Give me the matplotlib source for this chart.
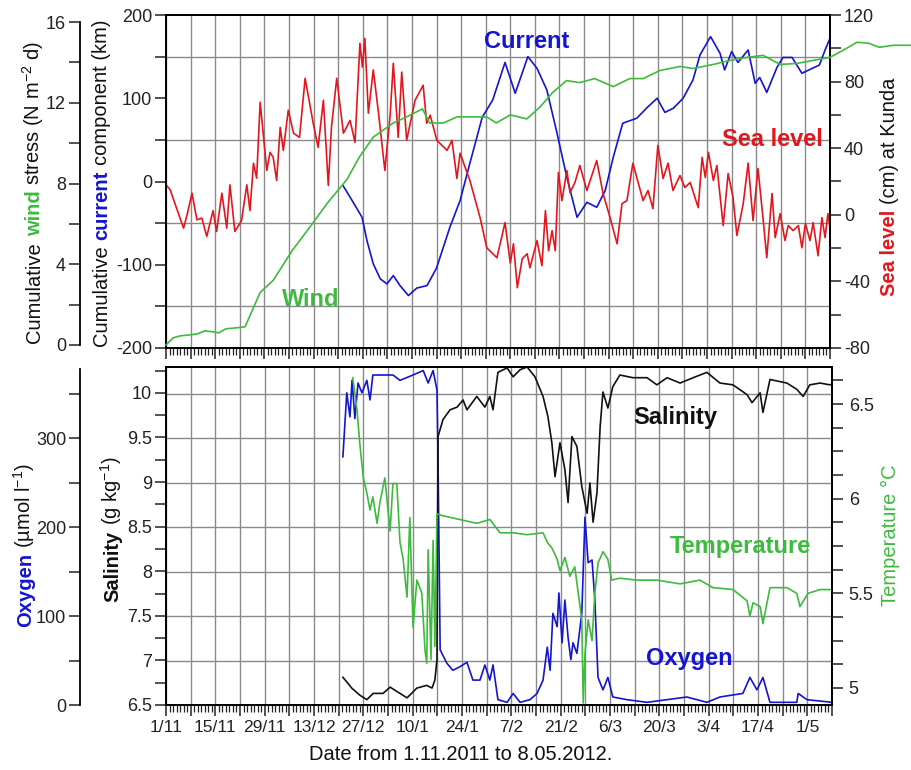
import numpy as np
import matplotlib
matplotlib.use('Agg')
import matplotlib.pyplot as plt
from matplotlib.ticker import MultipleLocator, FixedLocator, FuncFormatter, NullFormatter

# ---------------- data (x = days since 1 Nov 2011) ----------------
wind_day = [0, 2, 4, 6.8, 9, 11, 13.4, 15, 17, 20, 22.5, 26.8, 30.5, 36, 41, 45.8, 51.5, 55, 59,
            64.7, 68.5, 73, 75, 79, 82.8, 91.3, 94, 98, 102.7, 106.5, 110, 114, 117.8, 122, 127.3,
            132, 135.8, 140.6, 146.3, 150, 155.8, 160.5, 165.4, 170, 174.8, 179.6, 184.2, 189,
            192.7, 196.7, 200, 203, 207, 211.8]
wind_val = [0, 0.35, 0.45, 0.5, 0.55, 0.7, 0.65, 0.6, 0.8, 0.85, 0.9, 2.6, 3.2, 4.7, 5.85, 7.0, 8.2,
            9.3, 10.3, 11.0, 11.3, 11.7, 11.0, 11.0, 11.3, 11.3, 11.0, 11.4, 11.2, 11.8, 12.5, 13.1,
            13.0, 13.2, 12.8, 13.2, 13.2, 13.6, 13.8, 13.7, 13.9, 14.1, 14.25, 14.35, 13.9, 13.95,
            14.1, 14.25, 14.6, 15.0, 14.95, 14.75, 14.85, 14.85]

cur_day = [50.4, 53, 54.4, 55.8, 57.2, 59, 61, 62.9, 64.7, 66.6, 69, 71.4, 74.3, 77, 80.8, 83.7,
           86.5, 90, 93, 96.5, 99.4, 103, 105.6, 108.4, 111.3, 114.1, 117, 119.8, 122.6, 125,
           127.3, 130, 134, 137, 139.8, 142, 144.4, 147.2, 150, 152, 155, 157.7, 159, 161, 162.8,
           165.7, 167.7, 169, 171, 173.9, 175.6, 178.2, 181, 184, 186, 187.6, 189]
cur_val = [-5, -23, -33, -43, -71, -99, -117, -123, -113, -125, -137, -128, -125, -104, -55, -23,
           22, 77, 98, 143, 106, 150, 136, 110, 58, 5, -43, -25, -31, -11, 29, 70, 76, 89, 100,
           83, 88, 100, 122, 152, 174, 154, 134, 156, 143, 158, 118, 125, 107, 137, 149, 149, 130,
           136, 140, 158, 172]

sl_day = [0, 1.2, 3, 5, 6, 7.4, 8.8, 10.2, 11.6, 13.4, 14.4, 15.9, 17.3, 18.2, 19.6, 21.5, 23, 23.9,
          24.9, 25.8, 26.8, 28.7, 29.6, 30.5, 31.5, 32.5, 33.4, 34.8, 36.3, 38, 39.6, 41.9, 43.3,
          44.8, 46.2, 47.1, 48.6, 50.5, 52.4, 53.8, 55.2, 55.9, 56.6, 57.6, 59, 60.4, 62.3, 63.8,
          64.7, 66.1, 67.1, 68.5, 70.9, 73.2, 74.2, 75.2, 77.1, 80, 81.4, 82.8, 83.7, 86.5, 89.4,
          91.3, 94.2, 96.5, 98, 98.9, 100, 101.4, 102.8, 103.6, 105.6, 107, 108, 108.9, 109.9,
          110.8, 111.7, 112.7, 114.1, 115, 116.4, 117.8, 119.8, 121.2, 122.6, 124.4, 126.4, 128.4,
          129.8, 131.2, 132.9, 134.4, 135.8, 137.2, 138.6, 140, 141.5, 142.9, 144.3, 146.3, 147.7,
          149.2, 151.5, 152.6, 153.5, 154.4, 155.8, 156.8, 158.6, 160, 161.4, 162.5, 164.3, 165.7,
          167.1, 168.5, 170, 171, 172.5, 173.4, 174.8, 176.2, 177.1, 178.5, 180, 181, 182, 183.3,
          184.2, 185.6, 186.7, 187.6, 188.4, 189]
sl_val = [18, 15, 4, -8, 0, 13, -3, -2, -13, 2.5, -10, 13, -8, 18, -10, -3.5, 18, 2.5, 31, 22, 67.6,
          26.6, 37.5, 34.6, 20.6, 52.5, 38.7, 62.8, 49, 46.5, 82, 55, 40.5, 68.8, 17.6, 52.5, 82,
          49, 56.7, 43.5, 103, 88.7, 106, 61, 87, 62.8, 26.6, 59.8, 91, 46.5, 85.7, 44.7, 68.8,
          77.8, 55, 59.8, 44.7, 38.7, 44.7, 21.8, 37, 20.6, -1.7, -19.8, -25.8, -4.7, -29, -17.4,
          -43.8, -26.4, -23.4, -31.8, -15.5, -30.6, 2.5, -21.6, -9.5, -21.6, 25.4, 8.5, 26.6, 13.4,
          19.4, 29.6, 14.6, 23.6, 32.6, 12.8, -1.7, -17.4, 6.7, 8.5, 31, 19.4, 8.5, 14.6, 3.7,
          41.7, 21.8, 31, 14.6, 23.6, 16.4, 19.4, 4.3, 34.5, 22.4, 37.5, 20.6, 29.6, -6.5, 24.8,
          10.4, -12.5, 6.7, 31, -3.5, 27.8, -3.5, -25.8, 12.8, -13.7, 0.7, -15.5, -6.5, -9.5,
          -6.5, -19.8, -5.3, -15.5, -4.7, -24.6, -1.7, -13.7, 0.7, -7.7]

sal_day = [50.2, 51.3, 52.7, 55, 57, 58.8, 61.6, 63.6, 66.4, 68.4, 71.2, 74, 75.5, 76.3, 76.9, 77.2,
           78.6, 80.6, 82.6, 84.3, 85.4, 88.2, 90.5, 91.9, 92.8, 94.2, 96.8, 98.5, 100.5, 102.5,
           104.7, 107, 108.4, 109.5, 110.4, 111.8, 113.2, 114.1, 115.2, 116.6, 118, 119.5, 120.3,
           121.2, 122.3, 123.2, 124, 125.4, 126.8, 128.8, 132.5, 136.5, 139.3, 142.2, 145.9,
           149.6, 153.5, 157.2, 160.9, 164.9, 166.3, 168.6, 169.4, 171.4, 176.2, 179, 180.8,
           182.7, 185.6, 188.4, 189]
sal_val = [6.81, 6.76, 6.69, 6.61, 6.56, 6.63, 6.63, 6.70, 6.63, 6.58, 6.69, 6.72, 6.69, 6.78, 7.01,
           9.51, 9.70, 9.81, 9.84, 9.92, 9.81, 9.96, 9.84, 9.96, 9.81, 10.23, 10.28, 10.18, 10.26,
           10.29, 10.18, 9.96, 9.73, 9.44, 9.06, 9.44, 9.14, 8.77, 9.51, 9.40, 8.95, 8.65, 8.99,
           8.55, 8.88, 9.62, 10.01, 9.83, 10.07, 10.20, 10.17, 10.17, 10.09, 10.17, 10.11, 10.17,
           10.23, 10.11, 10.09, 9.98, 9.89, 10.00, 9.78, 10.15, 10.11, 10.04, 9.96, 10.09, 10.11,
           10.09, 10.10]

ox_day = [50.2, 51.3, 52.2, 52.8, 53.6, 54.5, 55.6, 57, 57.9, 58.7, 64.4, 66.4, 70.1, 73, 74.4, 75.8,
          76.9, 77.2, 77.8, 79.7, 81.4, 83.4, 85.4, 87.1, 89.1, 90.5, 91.9, 92.8, 94.2, 96.8, 98.5,
          100.5, 103.3, 105.3, 107, 108.2, 109, 109.8, 111, 111.5, 112.4, 113.2, 114.1, 114.9,
          115.5, 116.6, 118, 118.9, 119.8, 120.9, 121.7, 122.6, 124, 125.4, 126.8, 130.8, 136.5,
          142.2, 147.8, 153.5, 157.2, 163.7, 165.7, 167.7, 169.4, 171.4, 179, 179.4, 181.9, 189]
ox_val = [279, 351, 324, 365, 322, 362, 351, 365, 343, 371, 371, 365, 371, 376, 362, 376, 354, 275,
          62, 47, 39, 43, 48, 28, 28, 45, 28, 45, 6, 3, 13, 3, 6, 13, 28, 65, 39, 103, 88, 126, 70,
          118, 76, 51, 70, 58, 103, 211, 160, 163, 118, 31, 17, 31, 9, 6, 3, 6, 9, 3, 9, 13, 31, 17,
          31, 3, 3, 13, 6, 3]

tmp_day = [53, 54.2, 55, 56, 57, 57.9, 58.7, 59.9, 60.7, 62.1, 63.6, 64.4, 65.5, 66.4, 67.3, 68.4,
           69.2, 70.1, 71.2, 72.6, 73.5, 74, 74.4, 75.2, 75.8, 76.3, 76.9, 78.6, 83.4, 88.2, 91.9,
           94.8, 98.5, 102.5, 107, 108.2, 109.5, 111, 111.8, 113.2, 114.6, 116, 117, 118, 118.4,
           118.9, 119.8, 120.9, 121.7, 122.6, 124, 125.4, 126.5, 128.8, 133.6, 139.3, 145.9,
           151.5, 155.2, 160.9, 164.9, 165.7, 166.6, 168.6, 169.4, 171.4, 176.2, 179, 179.9,
           182.2, 185.6, 189]
tmp_val = [6.64, 6.47, 6.29, 6.11, 6.03, 5.94, 6.01, 5.87, 5.98, 6.11, 5.83, 6.08, 6.08, 5.77, 5.68,
           5.48, 5.90, 5.32, 5.57, 5.50, 5.20, 5.13, 5.73, 5.15, 5.78, 5.22, 5.92, 5.91, 5.89, 5.87,
           5.89, 5.82, 5.82, 5.81, 5.82, 5.77, 5.74, 5.68, 5.62, 5.69, 5.59, 5.64, 5.50, 5.36, 4.92,
           5.18, 5.36, 5.25, 5.50, 5.66, 5.72, 5.68, 5.57, 5.58, 5.57, 5.57, 5.55, 5.57, 5.53, 5.52,
           5.46, 5.38, 5.45, 5.43, 5.34, 5.53, 5.53, 5.50, 5.43, 5.50, 5.52, 5.52]

x_tick_days = list(range(0, 190, 7))
x_label_days = list(range(0, 183, 14))
x_labels = ['1/11', '15/11', '29/11', '13/12', '27/12', '10/1', '24/1', '7/2', '21/2', '6/3',
            '20/3', '3/4', '17/4', '1/5']

# ---------------- style ----------------
plt.rcParams['font.family'] = ['Liberation Sans', 'DejaVu Sans']
plt.rcParams['mathtext.default'] = 'regular'
plt.rcParams['axes.linewidth'] = 1.3

RED, BLUE, GREEN, K = '#e4161d', '#1414d2', '#3cbb3c', '#111111'
GRID = '#8a8a8a'
TICKC = '#222222'
XMAX = 189
W, H = 911.0, 770.0
OUT = 86 * 72 / 100.0  # 86 px outward offset in points

fig = plt.figure(figsize=(9.11, 7.70), dpi=100)


def rect(l, t, r, b):
    return [l / W, 1 - b / H, (r - l) / W, (b - t) / H]


def fx(px):
    return px / W


def fy(py):
    return 1 - py / H


def style_x(ax, labels):
    ax.set_xlim(0, XMAX)
    ax.xaxis.set_major_locator(FixedLocator(x_tick_days))
    ax.xaxis.set_minor_locator(MultipleLocator(1))
    lab = dict(zip(x_label_days, x_labels))
    if labels:
        ax.xaxis.set_major_formatter(FuncFormatter(lambda v, p: lab.get(int(round(v)), '')))
    else:
        ax.xaxis.set_major_formatter(NullFormatter())
    ax.tick_params(axis='x', which='major', direction='out', length=8, width=1.1,
                   labelsize=12.5, pad=3, colors=TICKC)
    ax.tick_params(axis='x', which='minor', direction='out', length=5, width=0.9, colors=TICKC)
    ax.grid(True, axis='x', which='major', color=GRID, lw=1.0)


def style_y(ax, major, minor, side):
    ax.yaxis.set_major_locator(MultipleLocator(major))
    ax.yaxis.set_minor_locator(MultipleLocator(minor))
    ax.yaxis.set_major_formatter(FuncFormatter(lambda v, p: '%g' % round(v, 3)))
    ax.tick_params(axis='y', which='both', direction='out', length=8, width=1.1,
                   labelsize=13, pad=2, colors=TICKC)
    if side == 'left':
        ax.yaxis.tick_left()
        ax.yaxis.set_label_position('left')
    else:
        ax.yaxis.tick_right()
        ax.yaxis.set_label_position('right')


# ---------------- top panel ----------------
ax_cur = fig.add_axes(rect(166, 15, 830, 348))
ax_sl = ax_cur.twinx()
ax_wind = ax_cur.twinx()

style_x(ax_cur, labels=False)
ax_cur.set_ylim(-200, 200)
style_y(ax_cur, 100, 50, 'left')
ax_cur.grid(True, axis='y', which='minor', color=GRID, lw=1.0)

ax_sl.set_ylim(-80, 120)
style_y(ax_sl, 40, 20, 'right')

ax_wind.set_ylim(-0.15, 16.35)
style_y(ax_wind, 4, 2, 'left')
ax_wind.spines['left'].set_position(('outward', OUT))
ax_wind.spines['left'].set_bounds(0, 16)
for s in ['right', 'top', 'bottom']:
    ax_wind.spines[s].set_visible(False)

ax_cur.plot(cur_day, cur_val, color=BLUE, lw=1.2)
ax_sl.plot(sl_day, sl_val, color=RED, lw=1.2)
ax_wind.plot(wind_day, wind_val, color=GREEN, lw=1.2, clip_on=False)

# ---------------- bottom panel ----------------
ax_oxy = fig.add_axes(rect(166, 367, 832, 705))
ax_sal = ax_oxy.twinx()
ax_tmp = ax_oxy.twinx()

style_x(ax_oxy, labels=True)
ax_oxy.set_ylim(0, 380)
style_y(ax_oxy, 100, 50, 'left')
ax_oxy.spines['left'].set_position(('outward', OUT))
ax_oxy.spines['left'].set_bounds(0, 378)
ax_oxy.grid(True, axis='y', which='both', color=GRID, lw=1.0)

ax_sal.set_ylim(6.5, 10.29)
style_y(ax_sal, 0.5, 0.25, 'left')
ax_sal.spines['left'].set_visible(True)

ax_tmp.set_ylim(4.91, 6.696)
style_y(ax_tmp, 0.5, 0.125, 'right')
ax_tmp.tick_params(axis='y', which='both', pad=4)

ax_oxy.plot(ox_day, ox_val, color=BLUE, lw=1.2)
ax_sal.plot(sal_day, sal_val, color=K, lw=1.2)
ax_tmp.plot(tmp_day, tmp_val, color=GREEN, lw=1.2)

# ---------------- texts ----------------
ann = dict(fontsize=17, fontweight='bold', ha='center', va='center')
fig.text(fx(527), fy(42), 'Current', color=BLUE, **ann)
fig.text(fx(311), fy(300), 'Wind', color=GREEN, **ann)
fig.text(fx(772), fy(139), 'Sea level', color=RED, **ann)
fig.text(fx(675), fy(418), 'Salinity', color=K, **ann)
fig.text(fx(740), fy(547), 'Temperature', color=GREEN, **ann)
fig.text(fx(689), fy(658), 'Oxygen', color=BLUE, **ann)

fig.text(fx(461), fy(755), 'Date from 1.11.2011 to 8.05.2012.', fontsize=14.5,
         color=K, ha='center', va='center')

renderer = fig.canvas.get_renderer()


def vlabel(xc, yc, parts, size=14.5):
    p1 = fig.text(0, 0, 'a a', fontsize=size)
    p2 = fig.text(0, 0, 'aa', fontsize=size)
    sp = p1.get_window_extent(renderer).width - p2.get_window_extent(renderer).width
    p1.remove()
    p2.remove()
    xb = xc + 0.36 * size * 100 / 72.0  # baseline x (glyphs extend to the left)
    objs = []
    for s, c, w in parts:
        t = fig.text(fx(xb), 0, s, rotation=90, rotation_mode='anchor', color=c,
                     fontweight=w, fontsize=size, ha='left', va='baseline')
        objs.append(t)
    lens = [t.get_window_extent(renderer).height for t in objs]
    total = sum(lens) + sp * (len(objs) - 1)
    y = (H - yc) - total / 2
    for t, L in zip(objs, lens):
        t.set_y(y / H)
        y += L + sp


vlabel(33, 192, [('Cumulative', K, 'normal'), ('wind', GREEN, 'bold'),
                 ('stress (N m$^{-2}$ d)', K, 'normal')])
vlabel(100, 183, [('Cumulative', K, 'normal'), ('current', BLUE, 'bold'),
                  ('component (km)', K, 'normal')])
vlabel(888, 187, [('Sea level', RED, 'bold'), ('(cm) at Kunda', K, 'normal')])
vlabel(24, 545, [('Oxygen', BLUE, 'bold'), ('(\u00b5mol l$^{-1}$)', K, 'normal')])
vlabel(111, 529, [('Salinity', K, 'bold'), ('(g kg$^{-1}$)', K, 'normal')])
vlabel(889, 535, [('Temperature \u00b0C', GREEN, 'normal')])

fig.savefig('out.png', dpi=100)
